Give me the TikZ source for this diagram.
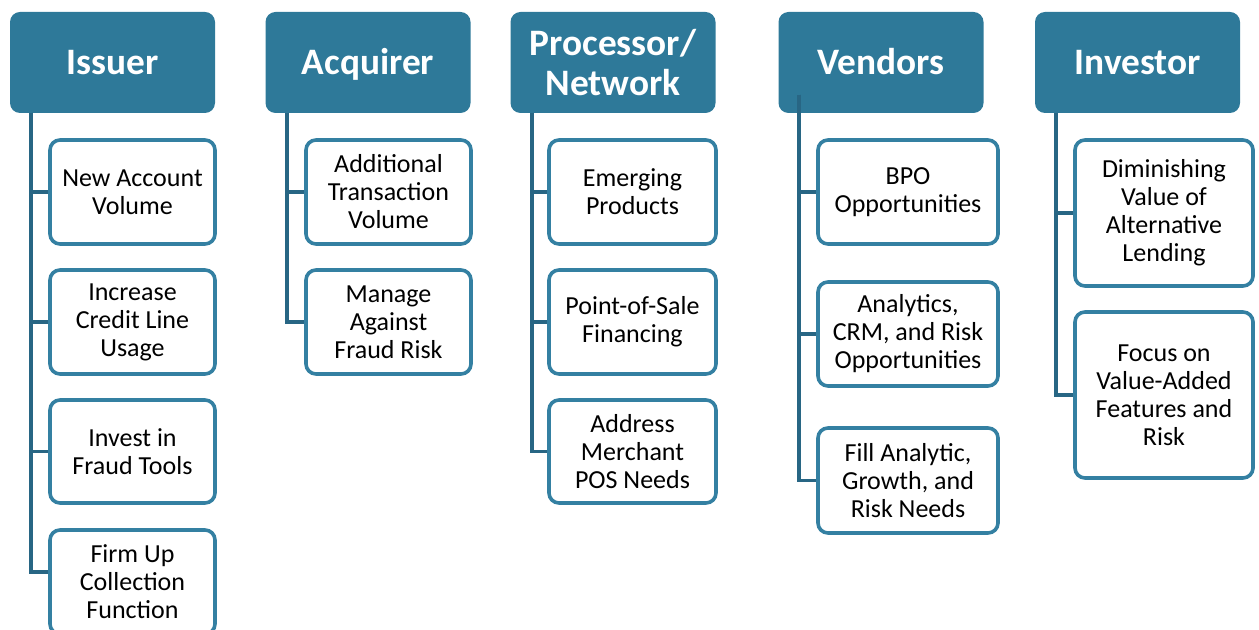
\documentclass[tikz,border=0pt]{standalone}
\usepackage{fontspec}
\setmainfont{Carlito}
\definecolor{hdrfill}{RGB}{46,121,153}
\definecolor{linec}{RGB}{40,102,132}
\definecolor{boxc}{RGB}{52,128,162}
\tikzset{
  hdr/.style={fill=hdrfill, draw=none, rounded corners=7.5pt, text=white,
    font=\fontsize{28}{30}\selectfont\bfseries, align=center,
    minimum width=153.75pt, minimum height=75.75pt, inner sep=0pt},
  oneline/.style={text height=21.5pt, text depth=4pt},
  child/.style={draw=boxc, line width=2.7pt, fill=white, rounded corners=7.5pt,
    text=black, font=\fontsize{19.5}{21}\selectfont, align=center, inner sep=0pt},
  conn/.style={draw=linec, line width=2.7pt},
}
\begin{document}
\begin{tikzpicture}[x=0.75pt, y=-0.75pt]
\useasboundingbox (0,0) rectangle (1259,630);
% headers
\node[hdr, oneline] (h1) at (112.5,62.5) {Issuer};
\node[hdr, oneline] (h2) at (368,62.5) {Acquirer};
\node[hdr] (h3) at (613,62.5) {Processor/\\Network};
\node[hdr, oneline] (h4) at (881,62.5) {Vendors};
\node[hdr, oneline] (h5) at (1137.5,62.5) {Investor};
% trunk tops
\coordinate (t1) at (31,113);
\coordinate (t2) at (287,113);
\coordinate (t3) at (532,113);
\coordinate (t4) at (799,95);
\coordinate (t5) at (1056,113);
% Issuer children
\node[child, minimum width=123.75pt, minimum height=78pt] (c11) at (132.5,192) {New Account\\Volume};
\node[child, minimum width=123.75pt, minimum height=78pt] (c12) at (132.5,322) {Increase\\Credit Line\\Usage};
\node[child, minimum width=123.75pt, minimum height=77.25pt] (c13) at (132.5,451.5) {Invest in\\Fraud Tools};
\node[child, minimum width=123.75pt, minimum height=78pt] (c14) at (132.5,582) {Firm Up\\Collection\\Function};
% Acquirer children
\node[child, minimum width=123.75pt, minimum height=78pt] (c21) at (388.5,192) {Additional\\Transaction\\Volume};
\node[child, minimum width=123.75pt, minimum height=78pt] (c22) at (388.5,322) {Manage\\Against\\Fraud Risk};
% Processor children
\node[child, minimum width=125.25pt, minimum height=78pt] (c31) at (632.5,192) {Emerging\\Products};
\node[child, minimum width=125.25pt, minimum height=78pt] (c32) at (632.5,322) {Point-of-Sale\\Financing};
\node[child, minimum width=125.25pt, minimum height=77.25pt] (c33) at (632.5,451.5) {Address\\Merchant\\POS Needs};
% Vendors children
\node[child, minimum width=135pt, minimum height=78pt] (c41) at (908,192) {BPO\\Opportunities};
\node[child, minimum width=135pt, minimum height=78pt] (c42) at (908,334) {Analytics,\\CRM, and Risk\\Opportunities};
\node[child, minimum width=135pt, minimum height=78.75pt] (c43) at (908,480.5) {Fill Analytic,\\Growth, and\\Risk Needs};
% Investor children
\node[child, minimum width=133.5pt, minimum height=109.5pt] (c51) at (1164,213) {Diminishing\\Value of\\Alternative\\Lending};
\node[child, minimum width=133.5pt, minimum height=124.5pt] (c52) at (1164,395) {Focus on\\Value-Added\\Features and\\Risk};
% connectors
\draw[conn] (t1) |- (c11.west);
\draw[conn] (t1) |- (c12.west);
\draw[conn] (t1) |- (c13.west);
\draw[conn] (t1) |- ([yshift=7.5pt]c14.west);
\draw[conn] (t2) |- (c21.west);
\draw[conn] (t2) |- (c22.west);
\draw[conn] (t3) |- (c31.west);
\draw[conn] (t3) |- (c32.west);
\draw[conn] (t3) |- (c33.west);
\draw[conn] (t4) |- (c41.west);
\draw[conn] (t4) |- (c42.west);
\draw[conn] (t4) |- (c43.west);
\draw[conn] (t5) |- (c51.west);
\draw[conn] (t5) |- (c52.west);
\end{tikzpicture}
\end{document}
